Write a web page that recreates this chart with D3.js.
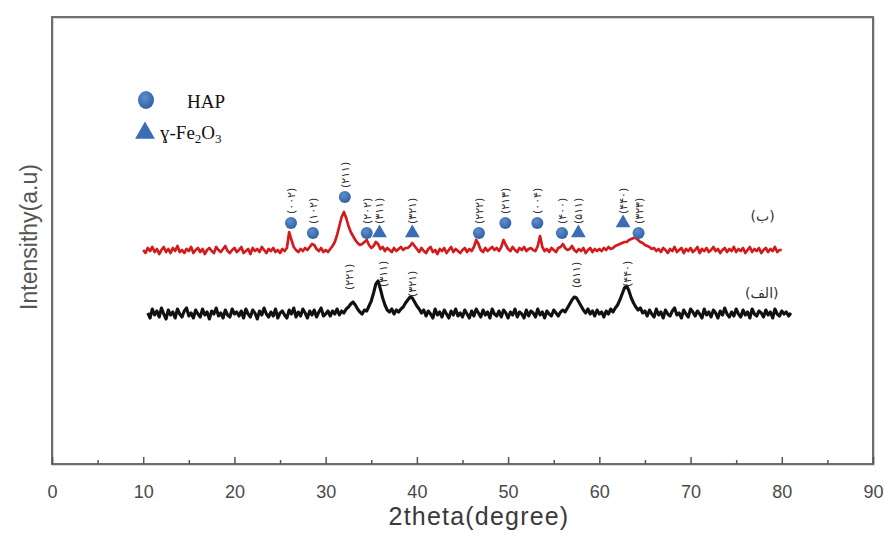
<!DOCTYPE html>
<html>
<head>
<meta charset="utf-8">
<script src="https://cdn.jsdelivr.net/npm/d3@7/dist/d3.min.js"></script>
<style>
  body { margin: 0; background: #fff; }
  svg { display: block; }
</style>
</head>
<body>
<div id="chart"></div>
<script>
var svgWidth = 884;
var svgHeight = 533;

// plot frame (pixels)
var margin = { top: 17, right: 11, bottom: 69, left: 52 };
var width = svgWidth - margin.left - margin.right;
var height = svgHeight - margin.top - margin.bottom;

// x ticks
var majorTicks = [0, 10, 20, 30, 40, 50, 60, 70, 80, 90];
var minorTicks = [5, 15, 25, 35, 45, 55, 65, 75, 85];

// sample (ب) : red, 10 -> 80 deg, every 0.25 deg
var redStart = 10, redStep = 0.25;
var redCounts = [
  214, 211, 216, 213, 217, 212, 215, 210, 214, 217, 212, 215, 211, 216, 213, 218, 212, 214, 211, 215,
  213, 217, 211, 214, 216, 212, 215, 210, 214, 216, 213, 211, 217, 214, 212, 215, 218, 213, 211, 214,
  216, 212, 214, 217, 211, 213, 215, 210, 216, 213, 215, 212, 217, 214, 211, 215, 213, 216, 212, 214,
  211, 215, 213, 216, 232, 224, 217, 214, 212, 215, 213, 216, 214, 217, 220, 219, 215, 213, 216, 212,
  214, 212, 215, 218, 222, 229, 238, 247, 252, 246, 238, 232, 228, 224, 221, 219, 220, 222, 224, 219,
  216, 218, 222, 220, 215, 217, 213, 216, 214, 212, 216, 213, 215, 217, 214, 216, 216, 218, 221, 218,
  215, 212, 216, 213, 211, 215, 217, 212, 214, 210, 215, 213, 216, 211, 214, 217, 212, 215, 213, 211,
  214, 216, 212, 215, 213, 217, 224, 220, 214, 212, 216, 213, 215, 217, 214, 216, 213, 217, 224, 219,
  215, 213, 217, 214, 212, 216, 214, 217, 213, 215, 216, 214, 213, 218, 228, 217, 213, 215, 212, 216,
  214, 212, 216, 217, 220, 216, 214, 215, 218, 214, 212, 215, 213, 216, 211, 214, 216, 212, 215, 213,
  215, 213, 216, 214, 217, 215, 216, 218, 219, 220, 221, 222, 222, 224, 225, 226, 226, 224, 222, 221,
  219, 218, 217, 215, 216, 213, 215, 212, 216, 214, 211, 215, 213, 217, 212, 214, 216, 211, 215, 213,
  216, 212, 214, 217, 211, 215, 213, 216, 212, 214, 217, 213, 215, 211, 214, 216, 212, 215, 213, 217,
  212, 215, 213, 216, 211, 214, 217, 212, 215, 213, 216, 211, 214, 216, 212, 215, 213, 217, 212, 214,
  214
];

// sample (الف) : black, 10.5 -> 81 deg, every 0.25 deg
var blackStart = 10.5, blackStep = 0.25;
var blackCounts = [
  151, 146, 155, 149, 153, 147, 156, 150, 145, 154, 149, 152, 146, 155, 150, 147, 153, 156, 148, 151,
  146, 154, 150, 147, 155, 149, 152, 145, 153, 150, 156, 148, 151, 146, 154, 149, 147, 155, 150, 152,
  148, 153, 146, 155, 150, 147, 154, 151, 145, 153, 149, 156, 150, 147, 152, 148, 155, 146, 151, 153,
  149, 146, 154, 150, 156, 147, 152, 148, 155, 151, 146, 153, 149, 154, 147, 152, 156, 148, 150, 153,
  148, 153, 150, 155, 149, 153, 151, 155, 157, 160, 162, 159, 155, 152, 150, 154, 153, 158, 163, 171,
  180, 183, 175, 166, 159, 154, 152, 155, 150, 154, 152, 155, 157, 161, 164, 167, 166, 162, 158, 155,
  151, 154, 148, 153, 150, 146, 155, 149, 152, 147, 154, 150, 146, 153, 149, 155, 148, 151, 147, 154,
  150, 146, 153, 148, 155, 151, 147, 154, 149, 152, 146, 155, 150, 148, 153, 147, 154, 151, 146, 152,
  149, 155, 147, 152, 150, 146, 154, 148, 153, 151, 147, 155, 149, 152, 146, 153, 150, 148, 154, 151,
  148, 152, 154, 152, 156, 160, 164, 167, 166, 162, 158, 154, 151, 155, 150, 153, 148, 154, 150, 152,
  147, 153, 150, 155, 152, 156, 159, 164, 170, 176, 178, 173, 166, 161, 157, 154, 156, 151, 153, 148,
  154, 150, 147, 155, 149, 152, 146, 154, 150, 148, 153, 156, 149, 151, 146, 154, 150, 147, 155, 152,
  148, 153, 150, 146, 155, 149, 152, 147, 154, 151, 146, 153, 149, 156, 150, 147, 152, 148, 155, 150,
  147, 154, 149, 152, 146, 155, 150, 148, 153, 151, 147, 154, 149, 152, 146, 155, 150, 148, 153, 150,
  152, 148, 151
];

// HAP markers on (ب)
var hapAngles = [26.2, 28.6, 32.1, 34.5, 46.8, 49.7, 53.2, 55.9, 64.3];
var hapLevels = [241, 231, 267, 231, 231, 241, 241, 231, 231];
var hapLabels = ["(۰۰۲)", "(۱۰۲)", "(۲۱۱)", "(۲۰۲)", "(۲۲۲)", "(۲۱۳)", "(۰۰۴)", "(۴۰۰)", "(۳۲۳)"];

// gamma-Fe2O3 markers on (ب)
var feAngles = [35.9, 39.5, 57.7, 62.6];
var feLevels = [231, 231, 231, 241];
var feLabels = ["(۳۱۱)", "(۳۲۱)", "(۵۱۱)", "(۴۴۰)"];

// peak labels on (الف)
var blackPeakAngles = [32.6, 36.3, 39.5, 57.4, 63.0];
var blackPeakLevels = [174, 177, 167, 176, 177];
var blackPeakLabels = ["(۲۲۱)", "(۳۱۱)", "(۳۲۱)", "(۵۱۱)", "(۴۴۰)"];

var seriesNames = ["(ب)", "(الف)"];

var markerColor = "#3a6db3";

var svg = d3.select("#chart")
  .append("svg")
  .attr("width", svgWidth)
  .attr("height", svgHeight);

var defs = svg.append("defs");
var grad = defs.append("radialGradient").attr("id", "dot").attr("cx", "40%").attr("cy", "35%").attr("r", "70%");
grad.append("stop").attr("offset", "0%").attr("stop-color", "#5d8fd0");
grad.append("stop").attr("offset", "100%").attr("stop-color", "#2d5e9e");

var chartGroup = svg.append("g")
  .attr("transform", `translate(${margin.left}, ${margin.top})`);

var x = d3.scaleLinear().domain([0, 90]).range([0, width]);
var y = d3.scaleLinear().domain([0, 447]).range([height, 0]);

// frame
chartGroup.append("rect")
  .attr("x", 1).attr("y", 1)
  .attr("width", width).attr("height", height)
  .attr("fill", "none")
  .attr("stroke", "#d8d8d8")
  .attr("stroke-width", 2);
chartGroup.append("rect")
  .attr("width", width).attr("height", height)
  .attr("fill", "none")
  .attr("stroke", "#6e6e6e")
  .attr("stroke-width", 2);

// bottom axis: major ticks with labels, pointing inward
var xAxis = d3.axisBottom(x)
  .tickValues(majorTicks)
  .tickSize(-7)
  .tickPadding(21)
  .tickFormat(d3.format("d"));

var gx = chartGroup.append("g")
  .attr("transform", `translate(0, ${height})`)
  .call(xAxis);
gx.select(".domain").remove();
gx.selectAll("line").attr("stroke", "#555").attr("stroke-width", 1.5);
gx.selectAll("text")
  .attr("font-family", "'Liberation Sans', Arial, sans-serif")
  .attr("font-size", "18px")
  .attr("fill", "#4a4a4a");

var gxMinor = chartGroup.append("g")
  .attr("transform", `translate(0, ${height})`)
  .call(d3.axisBottom(x).tickValues(minorTicks).tickSize(-4).tickFormat(""));
gxMinor.select(".domain").remove();
gxMinor.selectAll("line").attr("stroke", "#555").attr("stroke-width", 1.5);

// axis titles
svg.append("text")
  .attr("x", 479)
  .attr("y", 525)
  .attr("text-anchor", "middle")
  .attr("font-family", "'Liberation Sans', Arial, sans-serif")
  .attr("font-size", "25px")
  .attr("letter-spacing", "1.2px")
  .attr("fill", "#3a3a3a")
  .text("2theta(degree)");

svg.append("text")
  .attr("transform", `translate(37, 237) rotate(-90)`)
  .attr("text-anchor", "middle")
  .attr("font-family", "'Liberation Sans', Arial, sans-serif")
  .attr("font-size", "23px")
  .attr("fill", "#555")
  .text("Intensithy(a.u)");

// traces
var line = d3.line()
  .x(function (d) { return x(d[0]); })
  .y(function (d) { return y(d[1]); });

var redData = redCounts.map(function (v, i) { return [redStart + i * redStep, v]; });
var blackData = blackCounts.map(function (v, i) { return [blackStart + i * blackStep, v]; });

chartGroup.append("path")
  .datum(blackData)
  .attr("d", line)
  .attr("fill", "none")
  .attr("stroke", "#111")
  .attr("stroke-width", 3.1)
  .attr("stroke-linejoin", "round");

chartGroup.append("path")
  .datum(redData)
  .attr("d", line)
  .attr("fill", "none")
  .attr("stroke", "#d41b1b")
  .attr("stroke-width", 2.7)
  .attr("stroke-linejoin", "round");

// series names
chartGroup.append("text")
  .attr("x", x(77.9)).attr("y", y(243))
  .attr("text-anchor", "middle")
  .attr("font-family", "'DejaVu Sans', sans-serif")
  .attr("font-size", "14px")
  .attr("fill", "#333")
  .text(seriesNames[0]);
chartGroup.append("text")
  .attr("x", x(77.8)).attr("y", y(166))
  .attr("text-anchor", "middle")
  .attr("font-family", "'DejaVu Sans', sans-serif")
  .attr("font-size", "14px")
  .attr("fill", "#333")
  .text(seriesNames[1]);

// markers
var hapData = hapAngles.map(function (a, i) { return { a: a, v: hapLevels[i], t: hapLabels[i] }; });
var feData = feAngles.map(function (a, i) { return { a: a, v: feLevels[i], t: feLabels[i] }; });
var blackLabelData = blackPeakAngles.map(function (a, i) { return { a: a, v: blackPeakLevels[i], t: blackPeakLabels[i] }; });

chartGroup.selectAll("circle.hap")
  .data(hapData)
  .enter()
  .append("circle")
  .attr("class", "hap")
  .attr("cx", function (d) { return x(d.a); })
  .attr("cy", function (d) { return y(d.v); })
  .attr("r", 6)
  .attr("fill", "url(#dot)");

var tri = d3.symbol().type(d3.symbolTriangle).size(95);
chartGroup.selectAll("path.fe")
  .data(feData)
  .enter()
  .append("path")
  .attr("class", "fe")
  .attr("d", tri)
  .attr("transform", function (d) { return `translate(${x(d.a)}, ${y(d.v)})`; })
  .attr("fill", markerColor);

// rotated hkl labels
function addLabels(data, gap) {
  chartGroup.selectAll(null)
    .data(data)
    .enter()
    .append("text")
    .attr("transform", function (d) { return `translate(${x(d.a) + 4}, ${y(d.v) - gap}) rotate(-90)`; })
    .attr("font-family", "'DejaVu Sans', sans-serif")
    .attr("font-size", "11px")
    .attr("fill", "#333")
    .attr("direction", "ltr")
    .text(function (d) { return d.t; });
}
addLabels(hapData, 9);
addLabels(feData, 9);
addLabels(blackLabelData, 0);

// legend
var legend = svg.append("g");
legend.append("ellipse")
  .attr("cx", 146).attr("cy", 100)
  .attr("rx", 8).attr("ry", 9)
  .attr("fill", "url(#dot)");
legend.append("path")
  .attr("d", d3.symbol().type(d3.symbolTriangle).size(170))
  .attr("transform", "translate(145, 133)")
  .attr("fill", markerColor);
legend.append("text")
  .attr("x", 187).attr("y", 108)
  .attr("font-family", "'Liberation Serif', 'Times New Roman', serif")
  .attr("font-size", "19px")
  .attr("fill", "#111")
  .text("HAP");
var fe = legend.append("text")
  .attr("x", 160).attr("y", 139)
  .attr("font-family", "'Liberation Serif', 'Times New Roman', serif")
  .attr("font-size", "19px")
  .attr("fill", "#111");
fe.append("tspan").text("ɣ-Fe");
fe.append("tspan").attr("font-size", "13px").attr("dy", 4).text("2");
fe.append("tspan").attr("dy", -4).text("O");
fe.append("tspan").attr("font-size", "13px").attr("dy", 4).text("3");
</script>
</body>
</html>
